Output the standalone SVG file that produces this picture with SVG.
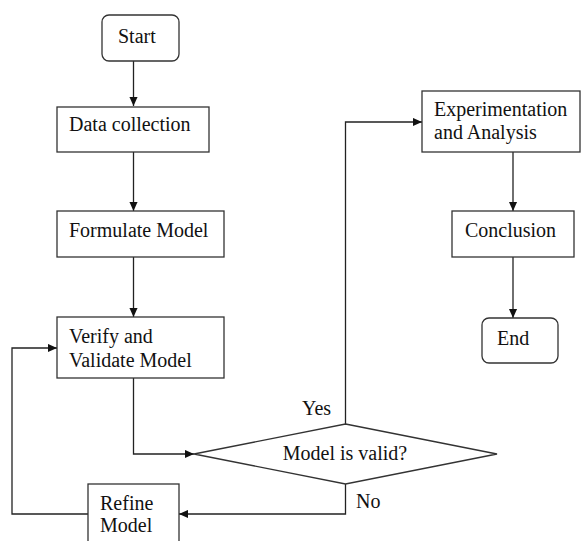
<svg xmlns="http://www.w3.org/2000/svg" width="581" height="541" viewBox="0 0 581 541">
<defs>
<style>
.b{fill:#fff;stroke:#333;stroke-width:1.3}
.t{font-family:'Liberation Serif','Times New Roman',Times,'DejaVu Serif',serif;font-size:20px;fill:#111}
.c{fill:none;stroke:#222;stroke-width:1.3}
</style>
<marker id="a" viewBox="0 0 10 10" refX="10" refY="5" markerWidth="9" markerHeight="9" markerUnits="userSpaceOnUse" orient="auto"><path d="M0,0.5 L10,5 L0,9.5 z" fill="#111"/></marker>
</defs>
<rect width="581" height="541" fill="#fff"/>
<g id="connectors">
<path class="c" d="M133.5,61 V106" marker-end="url(#a)"/>
<path class="c" d="M133.5,152 V211" marker-end="url(#a)"/>
<path class="c" d="M133.5,257 V317" marker-end="url(#a)"/>
<path class="c" d="M133.5,378 V454 H194" marker-end="url(#a)"/>
<path class="c" d="M345.5,424 V122 H422" marker-end="url(#a)"/>
<path class="c" d="M345.5,484 V514 H179" marker-end="url(#a)"/>
<path class="c" d="M88,514 H12 V348 H57" marker-end="url(#a)"/>
<path class="c" d="M513,152 V211" marker-end="url(#a)"/>
<path class="c" d="M513,257 V318" marker-end="url(#a)"/>
</g>
<g id="start">
<rect class="b" x="102" y="15" width="77" height="46" rx="7"/>
<text class="t" x="118" y="43">Start</text>
</g>
<g id="data-collection">
<rect class="b" x="57" y="107" width="152" height="45"/>
<text class="t" x="69" y="131">Data collection</text>
</g>
<g id="formulate-model">
<rect class="b" x="57" y="211" width="167" height="46"/>
<text class="t" x="69" y="237">Formulate Model</text>
</g>
<g id="verify-model">
<rect class="b" x="57" y="317" width="167" height="61"/>
<text class="t" x="69" y="343">Verify and</text>
<text class="t" x="69" y="367">Validate Model</text>
</g>
<g id="model-valid">
<polygon class="b" points="345.5,424 497,454 345.5,484 194,454"/>
<text class="t" x="345" y="460" text-anchor="middle">Model is valid?</text>
</g>
<g id="refine-model">
<rect class="b" x="88" y="484" width="91" height="70"/>
<text class="t" x="100" y="510">Refine</text>
<text class="t" x="100" y="532">Model</text>
</g>
<g id="experimentation">
<rect class="b" x="422" y="91" width="158" height="61"/>
<text class="t" x="434" y="116">Experimentation</text>
<text class="t" x="434" y="139">and Analysis</text>
</g>
<g id="conclusion">
<rect class="b" x="452" y="211" width="122" height="46"/>
<text class="t" x="465" y="237">Conclusion</text>
</g>
<g id="end">
<rect class="b" x="482" y="318" width="76" height="45" rx="7"/>
<text class="t" x="497" y="345">End</text>
</g>
<g id="labels">
<text class="t" x="302" y="415">Yes</text>
<text class="t" x="356" y="508">No</text>
</g>
</svg>
